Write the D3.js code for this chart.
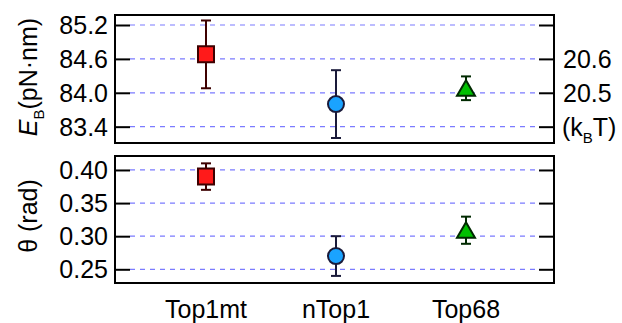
<!DOCTYPE html>
<html>
<head>
<meta charset="utf-8">
<script src="https://cdn.jsdelivr.net/npm/d3@7"></script>
<style>
  body { margin: 0; background: #fff; }
  text { font-family: "Liberation Sans", Arial, sans-serif; fill: #000; }
</style>
</head>
<body>
<script>
// data
let categories = ["Top1mt", "nTop1", "Top68"];
let energyMean = [84.68, 83.80, 84.08];
let energyErr = [0.60, 0.60, 0.21];
let thetaMean = [0.390, 0.270, 0.309];
let thetaErr = [0.020, 0.030, 0.0205];
let energyTicks = [83.4, 84.0, 84.6, 85.2];
let thetaTicks = [0.25, 0.30, 0.35, 0.40];
let kbtTicks = [84.6, 84.0];
let kbtLabels = ["20.6", "20.5"];

let markerShapes = ["square", "circle", "triangle"];
let markerFill = ["#ff1a1a", "#1aa3ff", "#00c000"];
let markerStroke = ["#3d0000", "#1a1a3a", "#002a00"];

let width = 622,
    height = 323;
let left = 115, right = 554;

let svg = d3.select("body").append("svg")
    .attr("width", width).attr("height", height);

let x = d3.scaleLinear().domain([-0.7, 2.677]).range([left, right]);

let yTop = d3.scaleLinear().domain([83.111, 85.377]).range([143, 15]);
let yBot = d3.scaleLinear().domain([0.2293, 0.4211]).range([283, 156]);

function panel(y, ticks, means, errs) {
    let g = svg.append("g");
    let y0 = y.range()[0], y1 = y.range()[1];

    // grid
    g.selectAll(".grid").data(ticks).enter().append("line")
        .attr("x1", left + 15).attr("x2", right - 15)
        .attr("y1", d => y(d)).attr("y2", d => y(d))
        .attr("stroke", "#7b7bff").attr("stroke-width", 1.2)
        .attr("stroke-dasharray", "5,5");

    // axes with inward ticks
    g.append("g").attr("transform", "translate(" + left + ",0)")
        .call(d3.axisRight(y).tickValues(ticks).tickSize(15).tickFormat(""))
        .call(a => a.select(".domain").remove())
        .selectAll("line").attr("stroke-width", 2);
    g.append("g").attr("transform", "translate(" + right + ",0)")
        .call(d3.axisLeft(y).tickValues(ticks).tickSize(15).tickFormat(""))
        .call(a => a.select(".domain").remove())
        .selectAll("line").attr("stroke-width", 2);

    // frame
    g.append("rect")
        .attr("x", left).attr("y", y1)
        .attr("width", right - left).attr("height", y0 - y1)
        .attr("fill", "none").attr("stroke", "#000").attr("stroke-width", 2);

    // error bars
    let eb = g.selectAll(".err").data(means).enter().append("g")
        .attr("stroke", (d, i) => markerStroke[i]).attr("stroke-width", 2);
    eb.append("line")
        .attr("x1", (d, i) => x(i)).attr("x2", (d, i) => x(i))
        .attr("y1", (d, i) => y(d + errs[i])).attr("y2", (d, i) => y(d - errs[i]));
    eb.append("line")
        .attr("x1", (d, i) => x(i) - 5).attr("x2", (d, i) => x(i) + 5)
        .attr("y1", (d, i) => y(d + errs[i])).attr("y2", (d, i) => y(d + errs[i]));
    eb.append("line")
        .attr("x1", (d, i) => x(i) - 5).attr("x2", (d, i) => x(i) + 5)
        .attr("y1", (d, i) => y(d - errs[i])).attr("y2", (d, i) => y(d - errs[i]));

    // markers
    g.selectAll(".mk").data(means).enter().append("path")
        .attr("transform", (d, i) => "translate(" + x(i) + "," + y(d) + ")")
        .attr("d", (d, i) => {
            if (markerShapes[i] === "square") return "M-8,-8H8V8H-8Z";
            if (markerShapes[i] === "circle") return d3.symbol(d3.symbolCircle, 201)();
            return "M0,-8L9,7.5H-9Z";
        })
        .attr("fill", (d, i) => markerFill[i])
        .attr("stroke", (d, i) => markerStroke[i])
        .attr("stroke-width", 2);

    return g;
}

let gTop = panel(yTop, energyTicks, energyMean, energyErr);
let gBot = panel(yBot, thetaTicks, thetaMean, thetaErr);

// left tick labels
gTop.selectAll(".lbl").data(energyTicks).enter().append("text")
    .attr("x", left - 7).attr("y", d => yTop(d))
    .attr("dy", "0.36em").attr("text-anchor", "end")
    .style("font-size", "25px")
    .text(d => d3.format(".1f")(d));
gBot.selectAll(".lbl").data(thetaTicks).enter().append("text")
    .attr("x", left - 7).attr("y", d => yBot(d))
    .attr("dy", "0.36em").attr("text-anchor", "end")
    .style("font-size", "25px")
    .text(d => d3.format(".2f")(d));

// right kBT labels
gTop.selectAll(".rl").data(kbtTicks).enter().append("text")
    .attr("x", right + 9).attr("y", d => yTop(d))
    .attr("dy", "0.36em")
    .style("font-size", "25px")
    .text((d, i) => kbtLabels[i]);
let kb = gTop.append("text")
    .attr("x", right + 8).attr("y", yTop(83.4))
    .attr("dy", "0.36em")
    .style("font-size", "25px");
kb.append("tspan").text("(k");
kb.append("tspan").attr("dy", 7).style("font-size", "15px").text("B");
kb.append("tspan").attr("dy", -7).text("T)");

// y titles
let t1 = svg.append("text")
    .attr("transform", "translate(37,77) rotate(-90)")
    .attr("text-anchor", "middle")
    .style("font-size", "25px");
t1.append("tspan").style("font-style", "italic").text("E");
t1.append("tspan").attr("dy", 7).style("font-size", "15px").text("B");
t1.append("tspan").attr("dy", -7).text("(pN·nm)");

svg.append("text")
    .attr("transform", "translate(37,216) rotate(-90)")
    .attr("text-anchor", "middle")
    .style("font-size", "25px")
    .text("θ (rad)");

// category labels
svg.selectAll(".cat").data(categories).enter().append("text")
    .attr("x", (d, i) => x(i)).attr("y", 318)
    .attr("text-anchor", "middle")
    .style("font-size", "25px")
    .text(d => d);
</script>
</body>
</html>
